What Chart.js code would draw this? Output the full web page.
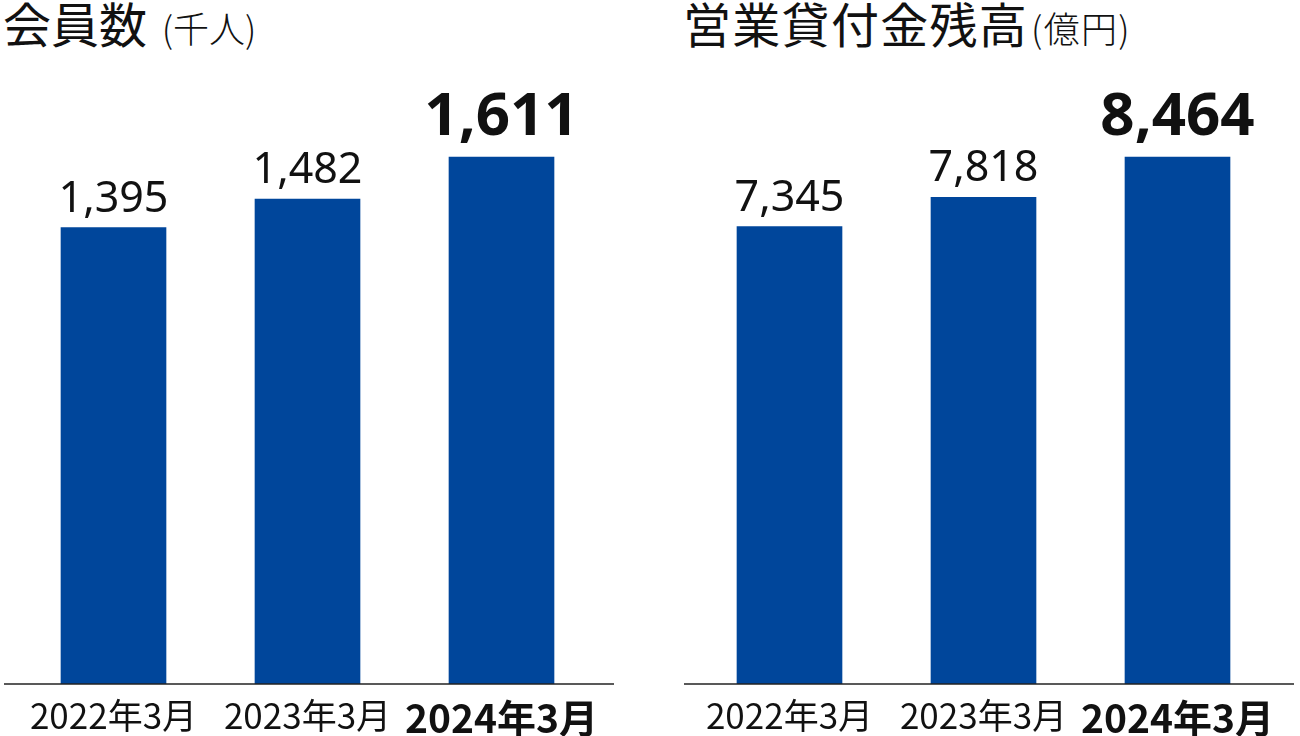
<!DOCTYPE html>
<html lang="ja">
<head>
<meta charset="utf-8">
<script src="https://cdn.jsdelivr.net/npm/chart.js@4/dist/chart.umd.min.js"></script>
<style>
  html, body { margin: 0; padding: 0; background: #fff; }
  body { width: 1300px; height: 736px; position: relative; overflow: hidden; }
  .title { position: absolute; top: -6px; font-family: "Noto Sans CJK JP", sans-serif; font-size: 48px; line-height: 1.2; color: #111; white-space: nowrap; }
  .title small { font-size: 36px; font-weight: 300; }
  canvas { position: absolute; top: 0; }
</style>
</head>
<body>
<div class="title" style="left:3px">会員数 <small style="margin-left:4px">(千人)</small></div>
<div class="title" style="left:683px; letter-spacing:1.3px">営業貸付金残高<small style="margin-left:3px">(億円)</small></div>
<canvas id="members" width="640" height="736" style="left:0"></canvas>
<canvas id="loans" width="624" height="736" style="left:676px"></canvas>
<script>
const categories = ['2022年3月', '2023年3月', '2024年3月'];
const members = [1395, 1482, 1611];
const loans = [7345, 7818, 8464];

const BAR = '#00469b';
const FONT_CJK = '"Noto Sans CJK JP", sans-serif';
const FONT_NUM = '"Noto Sans", "Noto Sans CJK JP", sans-serif';

// numbers above the bars, last one big and bold
const valueLabels = {
  id: 'valueLabels',
  afterDatasetsDraw(chart) {
    const ctx = chart.ctx;
    const vals = chart.data.datasets[0].data;
    const meta = chart.getDatasetMeta(0);
    ctx.save();
    ctx.textAlign = 'center';
    ctx.textBaseline = 'alphabetic';
    ctx.fillStyle = '#111';
    meta.data.forEach((bar, i) => {
      const last = i === vals.length - 1;
      ctx.font = last ? 'bold 60px ' + FONT_NUM : '43px ' + FONT_NUM;
      ctx.fillText(vals[i].toLocaleString('en-US'), bar.x, bar.y - (last ? 22 : 16));
    });
    ctx.restore();
  }
};

// baseline reaching a little past the plot area
const baseLine = {
  id: 'baseLine',
  afterDatasetsDraw(chart, args, opts) {
    const { ctx, chartArea } = chart;
    ctx.save();
    ctx.strokeStyle = '#222';
    ctx.lineWidth = 1.5;
    ctx.beginPath();
    ctx.moveTo(chartArea.left - opts.left, chartArea.bottom);
    ctx.lineTo(chartArea.right + opts.right, chartArea.bottom);
    ctx.stroke();
    ctx.restore();
  }
};

function makeChart(id, values, yMax, pad, line) {
  return new Chart(document.getElementById(id), {
    type: 'bar',
    data: {
      labels: categories,
      datasets: [{
        data: values,
        backgroundColor: BAR,
        borderWidth: 0,
        barThickness: 105
      }]
    },
    options: {
      responsive: false,
      animation: false,
      layout: { padding: pad },
      plugins: {
        legend: { display: false },
        tooltip: { enabled: false },
        baseLine: line
      },
      scales: {
        x: {
          grid: { display: false, drawTicks: false },
          border: { display: false },
          ticks: {
            padding: 11,
            color: '#111',
            maxRotation: 0,
            autoSkip: false,
            font: (c) => c.index === categories.length - 1
              ? { family: FONT_CJK, size: 39, weight: 'bold' }
              : { family: FONT_CJK, size: 35 }
          },
          afterFit(scale) { scale.height = 52; }
        },
        y: {
          display: false,
          min: 0,
          max: yMax
        }
      }
    },
    plugins: [valueLabels, baseLine]
  });
}

makeChart('members', members, 2000, { top: 29.7, left: 16.5, right: 41.5, bottom: 0 }, { left: 12.5, right: 15.5 });
makeChart('loans', loans, 10000, { top: 61.4, left: 16.5, right: 25.5, bottom: 0 }, { left: 8.5, right: 19.5 });
</script>
</body>
</html>
